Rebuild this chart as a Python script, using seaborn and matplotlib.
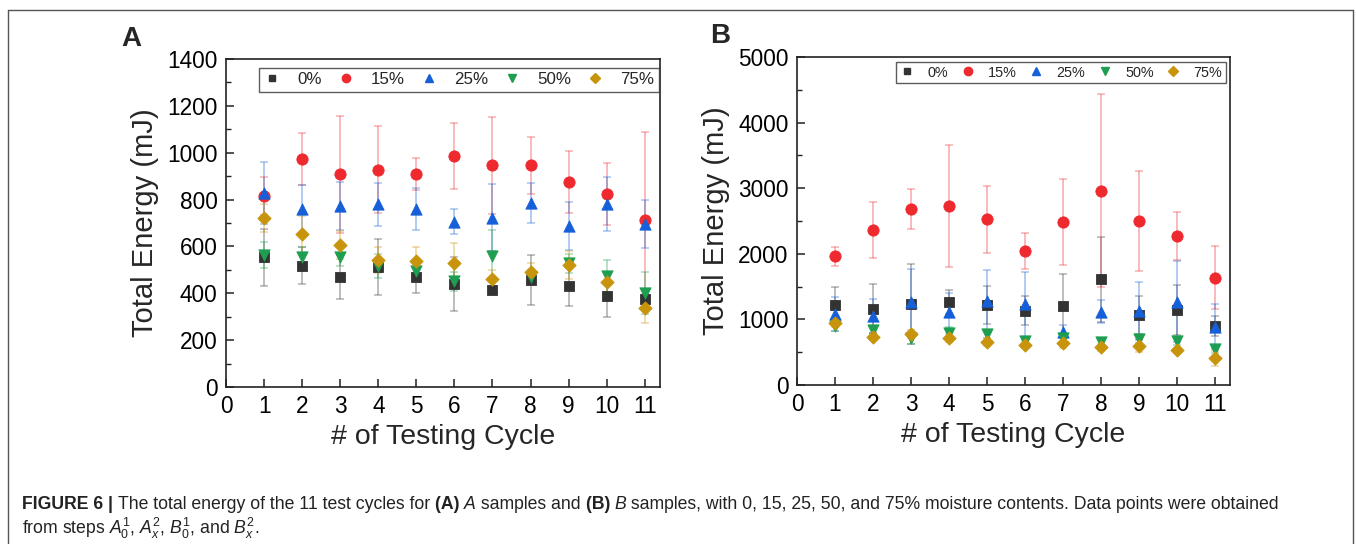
import matplotlib
matplotlib.use("Agg")
import matplotlib.pyplot as plt
import seaborn as sns
import pandas as pd
from matplotlib.lines import Line2D

# ---------------- data ----------------
cycles = list(range(1, 12))
series = ["0%", "15%", "25%", "50%", "75%"]

A_0 = [553, 518, 469, 513, 471, 440, 415, 457, 432, 390, 376]
A_0_err = [123, 80, 95, 120, 71, 116, 10, 105, 86, 93, 40]
A_15 = [815, 973, 908, 928, 908, 986, 946, 946, 875, 824, 711]
A_15_err = [81, 110, 250, 187, 68, 139, 208, 122, 132, 131, 376]
A_25 = [827, 760, 774, 780, 761, 706, 723, 787, 687, 781, 696]
A_25_err = [133, 102, 102, 92, 90, 55, 143, 85, 104, 117, 101]
A_50 = [563, 556, 556, 516, 497, 451, 559, 468, 528, 474, 400]
A_50_err = [57, 40, 40, 50, 30, 40, 110, 30, 40, 70, 90]
A_75 = [720, 652, 606, 542, 538, 528, 461, 489, 519, 447, 336]
A_75_err = [60, 80, 60, 55, 60, 85, 40, 40, 60, 40, 63]

B_0 = [1220, 1164, 1235, 1260, 1220, 1133, 1204, 1611, 1067, 1143, 899]
B_0_err = [280, 370, 615, 183, 294, 219, 483, 650, 290, 376, 158]
B_15 = [1961, 2358, 2683, 2729, 2526, 2040, 2485, 2962, 2500, 2267, 1636]
B_15_err = [147, 427, 310, 925, 512, 277, 660, 1474, 757, 366, 483]
B_25 = [1077, 1052, 1260, 1118, 1280, 1230, 813, 1118, 1128, 1270, 889]
B_25_err = [259, 259, 508, 279, 478, 498, 100, 178, 437, 620, 346]
B_50 = [900, 838, 711, 798, 777, 671, 711, 650, 696, 676, 549]
B_50_err = [80, 60, 90, 80, 60, 60, 60, 60, 60, 60, 60]
B_75 = [945, 737, 783, 722, 655, 615, 645, 574, 600, 528, 406]
B_75_err = [60, 50, 60, 60, 60, 50, 80, 50, 100, 40, 116]

A_vals = [A_0, A_15, A_25, A_50, A_75]
A_errs = [A_0_err, A_15_err, A_25_err, A_50_err, A_75_err]
B_vals = [B_0, B_15, B_25, B_50, B_75]
B_errs = [B_0_err, B_15_err, B_25_err, B_50_err, B_75_err]

# ---------------- style ----------------
sns.set_theme(style="white")
plt.rcParams["font.family"] = ["Liberation Sans", "DejaVu Sans"]
plt.rcParams["mathtext.fontset"] = "custom"
plt.rcParams["mathtext.rm"] = "Liberation Sans"
plt.rcParams["mathtext.it"] = "Liberation Sans:italic"

colors = {"0%": "#333333", "15%": "#ee2a2f", "25%": "#1560d8",
          "50%": "#1e9e50", "75%": "#c8940c"}
markers = {"0%": "s", "15%": "o", "25%": "^", "50%": "v", "75%": "D"}
msizes = {"0%": 46, "15%": 66, "25%": 66, "50%": 66, "75%": 46}

W, H = 1356, 544
fig = plt.figure(figsize=(W / 100, H / 100), dpi=100)


def fx(px):
    return px / W


def fy(py):
    return 1 - py / H


def make_df(vals, errs):
    rows = []
    for s, v, e in zip(series, vals, errs):
        for c, vv, ee in zip(cycles, v, e):
            rows.append({"cycle": c, "energy": vv, "err": ee, "moisture": s})
    return pd.DataFrame(rows)


def panel(rect, vals, errs, ymax, ymaj, ymin, leg_fs, leg_bbox, htp, csp,
          label, label_xy):
    ax = fig.add_axes(rect)
    df = make_df(vals, errs)
    for i, s in enumerate(series):
        d = df[df.moisture == s]
        ax.errorbar(d.cycle, d.energy, yerr=d.err, fmt="none",
                    ecolor=colors[s], alpha=0.35, elinewidth=1.3,
                    capsize=3, capthick=1.2, zorder=2 + i)
    for i, s in enumerate(series):
        d = df[df.moisture == s]
        sns.scatterplot(data=d, x="cycle", y="energy", ax=ax,
                        color=colors[s], marker=markers[s], s=msizes[s],
                        edgecolor=colors[s], linewidth=0.6, zorder=10 + i,
                        legend=False)
    ax.set_xlim(0, 11.4)
    ax.set_ylim(0, ymax)
    ax.set_xticks(range(0, 12))
    ax.set_yticks(range(0, ymax + 1, ymaj))
    ax.set_yticks(range(0, ymax + 1, ymin), minor=True)
    ax.tick_params(axis="both", which="major", direction="in", length=6,
                   width=1.1, labelsize=16.3, pad=6, colors="#222222",
                   labelcolor="black", top=False, right=False, bottom=True, left=True)
    ax.tick_params(axis="y", which="minor", direction="in", length=3.5,
                   width=1.0, left=True, right=False, colors="#222222")
    for sp in ax.spines.values():
        sp.set_visible(True)
        sp.set_linewidth(1.2)
        sp.set_color("#222222")
    ax.set_xlabel("# of Testing Cycle", fontsize=20.5, labelpad=4)
    ax.set_ylabel("Total Energy (mJ)", fontsize=21, labelpad=6)
    ax.grid(False)
    handles = [Line2D([0], [0], linestyle="none", marker=markers[s],
                      color=colors[s], markersize=5 if markers[s] in "sD" else 6)
               for s in series]
    leg = ax.legend(handles, series, ncol=5, loc="upper right",
                    bbox_to_anchor=leg_bbox, fontsize=leg_fs, frameon=True,
                    fancybox=False, edgecolor="#333333", handlelength=1.0,
                    handletextpad=htp, columnspacing=csp, borderpad=0.25,
                    borderaxespad=0.0)
    leg.get_frame().set_linewidth(1.0)
    fig.text(fx(label_xy[0]), fy(label_xy[1]), label, fontsize=20,
             fontweight="bold", ha="center", va="center")
    return ax


axA = panel([fx(226), fy(387), fx(660) - fx(226), fy(59) - fy(387)],
            A_vals, A_errs, 1400, 200, 100, 12.2,
            (0.997, 0.972), 1.0, 0.9, "A", (131, 39))
axB = panel([fx(797), fy(385), fx(1230) - fx(797), fy(57) - fy(385)],
            B_vals, B_errs, 5000, 1000, 500, 10.4,
            (0.99, 0.985), 0.9, 0.85, "B", (720, 36))

# outer frame
frame_kw = dict(color="#555555", linewidth=1.0, transform=fig.transFigure)
fig.add_artist(Line2D([fx(8), fx(8)], [fy(10), 0], **frame_kw))
fig.add_artist(Line2D([fx(8), fx(1353)], [fy(10), fy(10)], **frame_kw))
fig.add_artist(Line2D([fx(1353), fx(1353)], [fy(10), 0], **frame_kw))

# caption
line1 = [("FIGURE 6 | ", "bold", "normal"),
         ("The total energy of the 11 test cycles for ", "normal", "normal"),
         ("(A) ", "bold", "normal"), ("A", "normal", "italic"),
         (" samples and ", "normal", "normal"),
         ("(B) ", "bold", "normal"), ("B", "normal", "italic"),
         (" samples, with 0, 15, 25, 50, and 75% moisture contents. Data points were obtained",
          "normal", "normal")]
line2 = [("from steps $A_0^1$, $A_x^2$, $B_0^1$, and $B_x^2$.", "normal", "normal")]

renderer = fig.canvas.get_renderer()


def draw_line(segs, x0, ypix, fs):
    x = x0
    for txt, wt, st in segs:
        t = fig.text(fx(x), fy(ypix), txt, fontsize=fs, fontweight=wt,
                     fontstyle=st, ha="left", va="baseline", color="#222222")
        bb = t.get_window_extent(renderer=renderer)
        x += bb.width
    return x


cap_fs = 12.7
draw_line(line1, 22, 509, cap_fs)
draw_line(line2, 22, 534, cap_fs)

fig.savefig("out.png", dpi=100)
